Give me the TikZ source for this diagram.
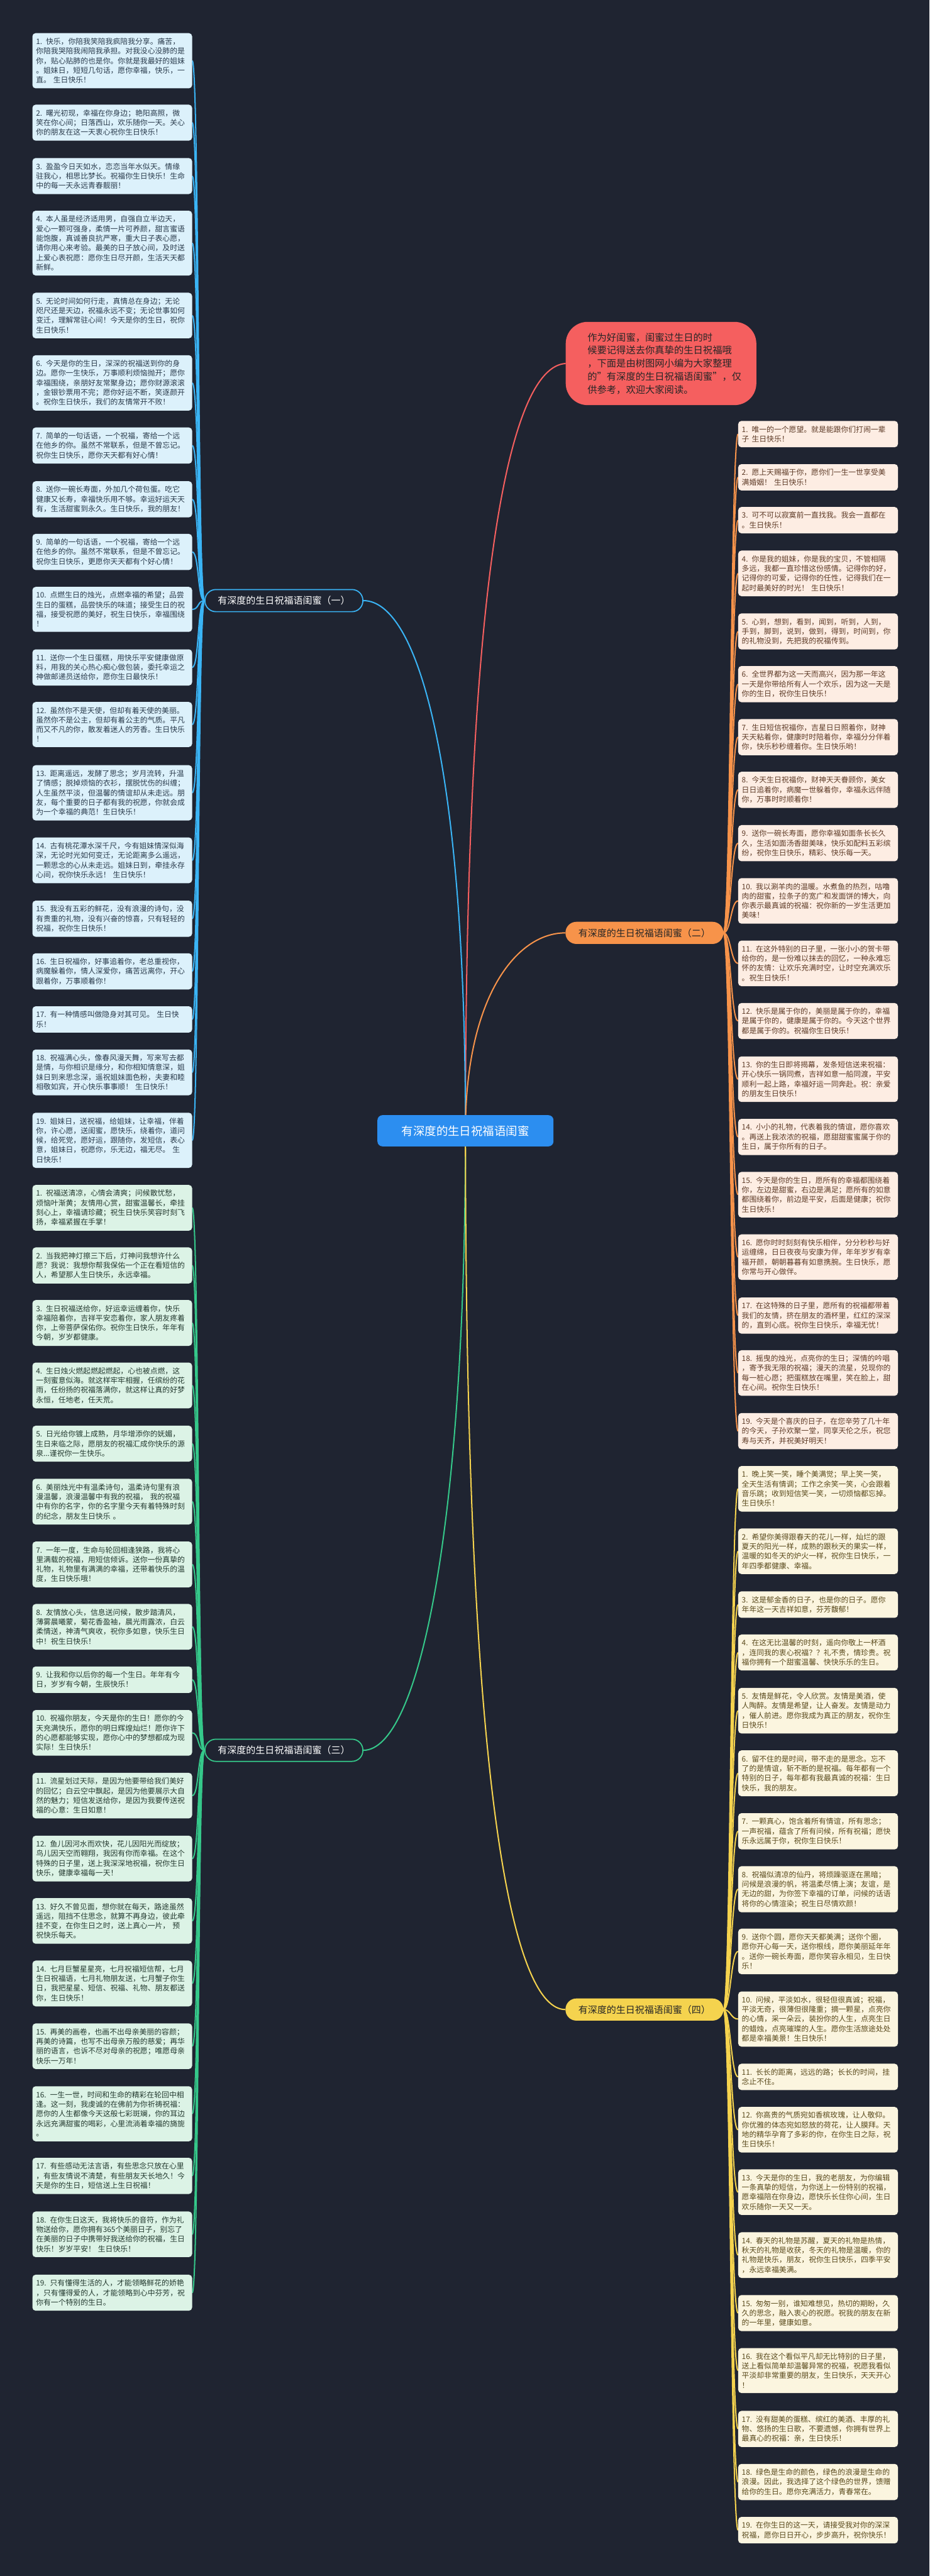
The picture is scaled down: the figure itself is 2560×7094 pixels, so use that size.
\documentclass[tikz,border=0pt]{standalone}
\usepackage{fontspec}
\setmainfont{Noto Sans CJK SC}
\usetikzlibrary{backgrounds}
\definecolor{bgc}{HTML}{1F2431}
\definecolor{cblue}{HTML}{3AB4F5}
\definecolor{corange}{HTML}{F7934A}
\definecolor{cgreen}{HTML}{35C88A}
\definecolor{cyellow}{HTML}{F5D34E}
\definecolor{cred}{HTML}{F55F5F}
\definecolor{ccenter}{HTML}{2C8EF0}
\definecolor{fblue}{HTML}{DCF1FB}
\definecolor{forange}{HTML}{FDEDE3}
\definecolor{fgreen}{HTML}{DCF3E6}
\definecolor{fyellow}{HTML}{FBF5DF}
\definecolor{tblue}{HTML}{2A3B4C}
\definecolor{torange}{HTML}{5E3B27}
\definecolor{tgreen}{HTML}{243A30}
\definecolor{tyellow}{HTML}{5A4A1C}
\newcommand\leaffont{\fontsize{20.5pt}{26.5pt}\selectfont}
\newcommand\branchfont{\fontsize{26pt}{30pt}\selectfont}
\begin{document}
\begin{tikzpicture}[x=1pt,y=-1pt,
  leaf/.style={rounded corners=9pt, inner xsep=10pt, inner ysep=13.5pt, text width=420pt, align=left, font=\leaffont, anchor=north west},
  leafA/.style={leaf, fill=fblue, text=tblue},
  leafO/.style={leaf, fill=forange, text=torange},
  leafG/.style={leaf, fill=fgreen, text=tgreen},
  leafY/.style={leaf, fill=fyellow, text=tyellow},
  branch/.style={rounded corners=30pt, minimum width=435pt, minimum height=61pt, inner sep=0pt, font=\branchfont},
  conA/.style={cblue, line width=3.5pt},
  conO/.style={corange, line width=3.5pt},
  conG/.style={cgreen, line width=3.5pt},
  conY/.style={cyellow, line width=3.5pt},
  conR/.style={cred, line width=3.5pt}]
\useasboundingbox (0,0) rectangle (2560,7094);
\begin{scope}[on background layer]
\fill[bgc] (0,0) rectangle (2560,7094);
\end{scope}

% center
\node[fill=ccenter, text=white, rounded corners=14pt, minimum width=485pt, minimum height=86pt, font=\fontsize{32pt}{36pt}\selectfont] (c) at (1282,3114) {有深度的生日祝福语闺蜜};

% intro
\node[fill=cred, text=black!85, rounded corners=60pt, anchor=west, inner xsep=60pt, inner ysep=30pt, text width=405pt, align=left, font=\fontsize{26.5pt}{36pt}\selectfont] (intro) at (1558,1001) {作为好闺蜜，闺蜜过生日的时\\候要记得送去你真挚的生日祝福哦\\，下面是由树图网小编为大家整理\\的"有深度的生日祝福语闺蜜"，仅\\供参考，欢迎大家阅读。};

% branch nodes
\node[branch, fill=bgc, draw=cblue, line width=3pt, text=white] (n1) at (782,1654) {有深度的生日祝福语闺蜜（一）};
\node[branch, fill=corange, text=black!85] (n2) at (1775,2569) {有深度的生日祝福语闺蜜（二）};
\node[branch, fill=bgc, draw=cgreen, line width=3pt, text=white] (n3) at (782,4820) {有深度的生日祝福语闺蜜（三）};
\node[branch, fill=cyellow, text=black!85] (n4) at (1775,5534) {有深度的生日祝福语闺蜜（四）};

% branch 1 leaves
\node[leafA] (a1) at (89,91) {1. 快乐，你陪我笑陪我疯陪我分享。痛苦，\\你陪我哭陪我闹陪我承担。对我没心没肺的是\\你，贴心贴肺的也是你。你就是我最好的姐妹\\。姐妹日，短短几句话，愿你幸福，快乐，一\\直。 生日快乐！};
\node[leafA] (a2) at (89,288) {2. 曙光初现，幸福在你身边；艳阳高照，微\\笑在你心间；日落西山，欢乐随你一天。关心\\你的朋友在这一天衷心祝你生日快乐！};
\node[leafA] (a3) at (89,435) {3. 盈盈今日天如水，恋恋当年水似天。情缘\\驻我心，相思比梦长。祝福你生日快乐！生命\\中的每一天永远青春靓丽！};
\node[leafA] (a4) at (89,580) {4. 本人虽是经济适用男，自强自立半边天，\\爱心一颗可强身，柔情一片可养颜，甜言蜜语\\能饱腹，真诚善良抗严寒，重大日子表心愿，\\请你用心来考验。最美的日子放心间，及时送\\上爱心表祝愿：愿你生日尽开颜，生活天天都\\新鲜。};
\node[leafA] (a5) at (89,806) {5. 无论时间如何行走，真情总在身边；无论\\咫尺还是天边，祝福永远不变；无论世事如何\\变迁，理解常驻心间！今天是你的生日，祝你\\生日快乐！};
\node[leafA] (a6) at (89,978) {6. 今天是你的生日，深深的祝福送到你的身\\边。愿你一生快乐，万事顺利烦恼抛开；愿你\\幸福围绕，亲朋好友常聚身边；愿你财源滚滚\\，金银钞票用不完；愿你好运不断，笑逐颜开\\。祝你生日快乐，我们的友情常开不败！};
\node[leafA] (a7) at (89,1177) {7. 简单的一句话语，一个祝福，寄给一个远\\在他乡的你。虽然不常联系，但是不曾忘记。\\祝你生日快乐，愿你天天都有好心情！};
\node[leafA] (a8) at (89,1325) {8. 送你一碗长寿面，外加几个荷包蛋。吃它\\健康又长寿，幸福快乐用不够。幸运好运天天\\有，生活甜蜜到永久。生日快乐，我的朋友！};
\node[leafA] (a9) at (89,1470) {9. 简单的一句话语，一个祝福，寄给一个远\\在他乡的你。虽然不常联系，但是不曾忘记。\\祝你生日快乐，更愿你天天都有个好心情！};
\node[leafA] (a10) at (89,1616) {10. 点燃生日的烛光，点燃幸福的希望；品尝\\生日的蛋糕，品尝快乐的味道；接受生日的祝\\福，接受祝愿的美好，祝生日快乐，幸福围绕\\！};
\node[leafA] (a11) at (89,1788) {11. 送你一个生日蛋糕，用快乐平安健康做原\\料，用我的关心热心痴心做包装，委托幸运之\\神做邮递员送给你，愿你生日最快乐！};
\node[leafA] (a12) at (89,1933) {12. 虽然你不是天使，但却有着天使的美丽。\\虽然你不是公主，但却有着公主的气质。平凡\\而又不凡的你，散发着迷人的芳香。生日快乐\\！};
\node[leafA] (a13) at (89,2107) {13. 距离遥远，发酵了思念；岁月流转，升温\\了情感；脱掉烦恼的衣衫，摆脱忧伤的纠缠；\\人生虽然平淡，但温馨的情谊却从未走远。朋\\友，每个重要的日子都有我的祝愿，你就会成\\为一个幸福的典范！生日快乐！};
\node[leafA] (a14) at (89,2306) {14. 古有桃花潭水深千尺，今有姐妹情深似海\\深，无论时光如何变迁，无论距离多么遥远，\\一颗思念的心从未走远。姐妹日到，牵挂永存\\心间，祝你快乐永远！ 生日快乐！};
\node[leafA] (a15) at (89,2480) {15. 我没有五彩的鲜花，没有浪漫的诗句，没\\有贵重的礼物，没有兴奋的惊喜，只有轻轻的\\祝福，祝你生日快乐！};
\node[leafA] (a16) at (89,2625) {16. 生日祝福你，好事追着你，老总重视你，\\病魔躲着你，情人深爱你，痛苦远离你，开心\\跟着你，万事顺着你！};
\node[leafA] (a17) at (89,2771) {17. 有一种情感叫做隐身对其可见。 生日快\\乐！};
\node[leafA] (a18) at (89,2890) {18. 祝福满心头，像春风漫天舞，写来写去都\\是情，与你相识是缘分，和你相知情意深，姐\\妹日到来思念深，遥祝姐妹面色粉，夫妻和睦\\相敬如宾，开心快乐事事顺！ 生日快乐！};
\node[leafA] (a19) at (89,3064) {19. 姐妹日，送祝福，给姐妹，让幸福，伴着\\你，许心愿，送闺蜜，愿快乐，绕着你，道问\\候，给死党，愿好运，跟随你，发短信，表心\\意，姐妹日，祝愿你，乐无边，福无尽。 生\\日快乐！};

% branch 3 leaves
\node[leafG] (g1) at (89,3263) {1. 祝福送清凉，心情会清爽；问候散忧愁，\\烦恼叶渐黄；友情用心赏，甜蜜温馨长，牵挂\\刻心上，幸福请珍藏；祝生日快乐笑容时刻飞\\扬，幸福紧握在手掌！};
\node[leafG] (g2) at (89,3435) {2. 当我把神灯擦三下后，灯神问我想许什么\\愿？我说：我想你帮我保佑一个正在看短信的\\人，希望那人生日快乐，永远幸福。};
\node[leafG] (g3) at (89,3580) {3. 生日祝福送给你，好运幸运缠着你，快乐\\幸福陪着你，吉祥平安恋着你，家人朋友疼着\\你，上帝菩萨保佑你。祝你生日快乐，年年有\\今朝，岁岁都健康。};
\node[leafG] (g4) at (89,3752) {4. 生日烛火燃起燃起燃起，心也被点燃，这\\一刻蜜意似海。就这样牢牢相握，任缤纷的花\\雨，任纷扬的祝福落满你，就这样让真的好梦\\永恒，任地老，任天荒。};
\node[leafG] (g5) at (89,3926) {5. 日光给你镀上成熟，月华增添你的妩媚，\\生日来临之际，愿朋友的祝福汇成你快乐的源\\泉...谨祝你一生快乐。};
\node[leafG] (g6) at (89,4072) {6. 美丽烛光中有温柔诗句，温柔诗句里有浪\\漫温馨，浪漫温馨中有我的祝福， 我的祝福\\中有你的名字，你的名字里今天有着特殊时刻\\的纪念，朋友生日快乐 。};
\node[leafG] (g7) at (89,4245) {7. 一年一度，生命与轮回相逢狭路，我将心\\里满载的祝福，用短信倾诉。送你一份真挚的\\礼物，礼物里有满满的幸福，还带着快乐的温\\度，生日快乐哦！};
\node[leafG] (g8) at (89,4417) {8. 友情放心头，信息送问候，散步踏清风，\\薄雾晨曦蒙，菊花香盈袖，晨光雨露浓，白云\\柔情送，神清气爽收，祝你多如意，快乐生日\\中！祝生日快乐！};
\node[leafG] (g9) at (89,4589) {9. 让我和你以后你的每一个生日。年年有今\\日，岁岁有今朝，生辰快乐！};
\node[leafG] (g10) at (89,4709) {10. 祝福你朋友，今天是你的生日！愿你的今\\天充满快乐，愿你的明日辉煌灿烂！愿你许下\\的心愿都能够实现，愿你心中的梦想都成为现\\实际！生日快乐！};
\node[leafG] (g11) at (89,4882) {11. 流星划过天际，是因为他要带给我们美好\\的回忆；白云空中飘起，是因为他要展示大自\\然的魅力；短信发送给你，是因为我要传送祝\\福的心意：生日如意！};
\node[leafG] (g12) at (89,5055) {12. 鱼儿因河水而欢快，花儿因阳光而绽放；\\鸟儿因天空而翱翔，我因有你而幸福。在这个\\特殊的日子里，送上我深深地祝福，祝你生日\\快乐，健康幸福每一天！};
\node[leafG] (g13) at (89,5227) {13. 好久不曾见面，想你就在每天，路途虽然\\遥远，阻挡不住思念，就算不再身边，彼此牵\\挂不变，在你生日之时，送上真心一片， 预\\祝快乐每天。};
\node[leafG] (g14) at (89,5399) {14. 七月巨蟹星星亮，七月祝福短信帮，七月\\生日祝福语，七月礼物朋友送，七月蟹子你生\\日，我把星星、短信、祝福、礼物、朋友都送\\你，生日快乐！};
\node[leafG] (g15) at (89,5572) {15. 再美的画卷，也画不出母亲美丽的容颜；\\再美的诗篇，也写不出母亲万般的慈爱；再华\\丽的语言，也诉不尽对母亲的祝愿；唯愿母亲\\快乐一万年！};
\node[leafG] (g16) at (89,5745) {16. 一生一世，时间和生命的精彩在轮回中相\\逢。这一刻，我虔诚的在佛前为你祈祷祝福：\\愿你的人生都像今天这般七彩斑斓，你的耳边\\永远充满甜蜜的喝彩，心里流淌着幸福的旖旎\\。};
\node[leafG] (g17) at (89,5942) {17. 有些感动无法言语，有些思念只放在心里\\，有些友情说不清楚，有些朋友天长地久！今\\天是你的生日，短信送上生日祝福！};
\node[leafG] (g18) at (89,6090) {18. 在你生日这天，我将快乐的音符，作为礼\\物送给你，愿你拥有365个美丽日子，别忘了\\在美丽的日子中携带好我送给你的祝福，生日\\快乐！岁岁平安！ 生日快乐！};
\node[leafG] (g19) at (89,6264) {19. 只有懂得生活的人，才能领略鲜花的娇艳\\，只有懂得爱的人，才能领略到心中芬芳，祝\\你有一个特别的生日。};

% branch 2 leaves
\node[leafO] (o1) at (2033,1159) {1. 唯一的一个愿望。就是能跟你们打闹一辈\\子 生日快乐！};
\node[leafO] (o2) at (2033,1278) {2. 愿上天赐福于你，愿你们一生一世享受美\\满婚姻！ 生日快乐！};
\node[leafO] (o3) at (2033,1396) {3. 可不可以寂寞前一直找我。我会一直都在\\。生日快乐！};
\node[leafO] (o4) at (2033,1516) {4. 你是我的姐妹，你是我的宝贝，不管相隔\\多远，我都一直珍惜这份感情。记得你的好，\\记得你的可爱，记得你的任性，记得我们在一\\起时最美好的时光！ 生日快乐！};
\node[leafO] (o5) at (2033,1689) {5. 心到，想到，看到，闻到，听到，人到，\\手到，脚到，说到，做到，得到，时间到，你\\的礼物没到，先把我的祝福传到。};
\node[leafO] (o6) at (2033,1834) {6. 全世界都为这一天而高兴，因为那一年这\\一天是你带给所有人一个欢乐，因为这一天是\\你的生日，祝你生日快乐！};
\node[leafO] (o7) at (2033,1980) {7. 生日短信祝福你，吉星日日照着你，财神\\天天粘着你，健康时时陪着你，幸福分分伴着\\你，快乐秒秒缠着你。生日快乐哟！};
\node[leafO] (o8) at (2033,2125) {8. 今天生日祝福你，财神天天眷顾你，美女\\日日追着你，病魔一世躲着你，幸福永远伴随\\你，万事时时顺着你！};
\node[leafO] (o9) at (2033,2272) {9. 送你一碗长寿面，愿你幸福如面条长长久\\久，生活如面汤香甜美味，快乐如配料五彩缤\\纷，祝你生日快乐，精彩、快乐每一天。};
\node[leafO] (o10) at (2033,2418) {10. 我以涮羊肉的温暖。水煮鱼的热烈，咕噜\\肉的甜蜜，拉条子的宽广和发面饼的博大，向\\你表示最真诚的祝福：祝你新的一岁生活更加\\美味！};
\node[leafO] (o11) at (2033,2590) {11. 在这外特别的日子里，一张小小的贺卡带\\给你的，是一份难以抹去的回忆，一种永难忘\\怀的友情：让欢乐充满时空，让时空充满欢乐\\。祝生日快乐！};
\node[leafO] (o12) at (2033,2762) {12. 快乐是属于你的，美丽是属于你的，幸福\\是属于你的，健康是属于你的。今天这个世界\\都是属于你的。祝福你生日快乐！};
\node[leafO] (o13) at (2033,2909) {13. 你的生日即将揭幕，发条短信送来祝福：\\开心快乐一锅同煮，吉祥如意一船同渡，平安\\顺利一起上路，幸福好运一同奔赴。祝：亲爱\\的朋友生日快乐！};
\node[leafO] (o14) at (2033,3081) {14. 小小的礼物，代表着我的情谊，愿你喜欢\\。再送上我浓浓的祝福，愿甜甜蜜蜜属于你的\\生日，属于你所有的日子。};
\node[leafO] (o15) at (2033,3227) {15. 今天是你的生日，愿所有的幸福都围绕着\\你，左边是甜蜜，右边是满足；愿所有的如意\\都围绕着你，前边是平安，后面是健康；祝你\\生日快乐！};
\node[leafO] (o16) at (2033,3399) {16. 愿你时时刻刻有快乐相伴，分分秒秒与好\\运缠绵，日日夜夜与安康为伴，年年岁岁有幸\\福开颜，朝朝暮暮有如意携腕。生日快乐，愿\\你常与开心做伴。};
\node[leafO] (o17) at (2033,3573) {17. 在这特殊的日子里，愿所有的祝福都带着\\我们的友情，挤在朋友的酒杯里，红红的深深\\的，直到心底。祝你生日快乐，幸福无忧！};
\node[leafO] (o18) at (2033,3718) {18. 摇曳的烛光，点亮你的生日；深情的吟唱\\，寄予我无限的祝福；漫天的流星，兑现你的\\每一桩心愿；把蛋糕放在嘴里，笑在脸上，甜\\在心间。祝你生日快乐！};
\node[leafO] (o19) at (2033,3891) {19. 今天是个喜庆的日子，在您辛劳了几十年\\的今天，子孙欢聚一堂，同享天伦之乐，祝您\\寿与天齐，并祝美好明天！};

% branch 4 leaves
\node[leafY] (y1) at (2033,4037) {1. 晚上笑一笑，睡个美满觉；早上笑一笑，\\全天生活有情调；工作之余笑一笑，心会跟着\\音乐跳；收到短信笑一笑，一切烦恼都忘掉。\\生日快乐！};
\node[leafY] (y2) at (2033,4209) {2. 希望你美得跟春天的花儿一样，灿烂的跟\\夏天的阳光一样，成熟的跟秋天的果实一样，\\温暖的如冬天的炉火一样，祝你生日快乐，一\\年四季都健康、幸福。};
\node[leafY] (y3) at (2033,4382) {3. 这是郁金香的日子，也是你的日子。愿你\\年年这一天吉祥如意，芬芳馥郁！};
\node[leafY] (y4) at (2033,4501) {4. 在这无比温馨的时刻，遥向你敬上一杯酒\\，连同我的衷心祝福？？礼不贵，情珍贵。祝\\福你拥有一个甜蜜温馨、快快乐乐的生日。};
\node[leafY] (y5) at (2033,4648) {5. 友情是鲜花，令人欣赏。友情是美酒，使\\人陶醉。友情是希望，让人奋发。友情是动力\\，催人前进。愿你我成为真正的朋友，祝你生\\日快乐！};
\node[leafY] (y6) at (2033,4820) {6. 留不住的是时间，带不走的是思念。忘不\\了的是情谊，斩不断的是祝福。每年都有一个\\特别的日子，每年都有我最真诚的祝福：生日\\快乐，我的朋友。};
\node[leafY] (y7) at (2033,4993) {7. 一颗真心，饱含着所有情谊，所有思念；\\一声祝福，蕴含了所有问候，所有祝福；愿快\\乐永远属于你，祝你生日快乐！};
\node[leafY] (y8) at (2033,5139) {8. 祝福似清凉的仙丹，将烦躁驱逐在黑暗；\\问候是浪漫的帆，将温柔尽情上演；友谊，是\\无边的甜，为你签下幸福的订单，问候的话语\\将你的心情渲染；祝生日尽情欢颜！};
\node[leafY] (y9) at (2033,5311) {9. 送你个圆，愿你天天都美满；送你个圈，\\愿你开心每一天，送你根线，愿你美丽延年年\\。送你一碗长寿面，愿你笑容永相见，生日快\\乐！};
\node[leafY] (y10) at (2033,5484) {10. 问候，平淡如水，很轻但很真诚；祝福，\\平淡无奇，很薄但很隆重；摘一颗星，点亮你\\的心情，采一朵云，装扮你的人生，点亮生日\\的蜡烛，点亮璀璨的人生。愿你生活旅途处处\\都是幸福美景！生日快乐！};
\node[leafY] (y11) at (2033,5683) {11. 长长的距离，远远的路；长长的时间，挂\\念止不住。};
\node[leafY] (y12) at (2033,5802) {12. 你高贵的气质宛如香槟玫瑰，让人敬仰。\\你优雅的体态宛如怒放的荷花，让人膜拜。天\\地的精华孕育了多彩的你，在你生日之际，祝\\生日快乐！};
\node[leafY] (y13) at (2033,5974) {13. 今天是你的生日，我的老朋友，为你编辑\\一条真挚的短信，为你送上一份特别的祝福，\\愿幸福陪在你身边，愿快乐长住你心间，生日\\欢乐随你一天又一天。};
\node[leafY] (y14) at (2033,6147) {14. 春天的礼物是苏醒，夏天的礼物是热情，\\秋天的礼物是收获，冬天的礼物是温暖，你的\\礼物是快乐，朋友，祝你生日快乐，四季平安\\，永远幸福美满。};
\node[leafY] (y15) at (2033,6320) {15. 匆匆一别，谁知难想见，热切的期盼，久\\久的思念，融入衷心的祝愿。祝我的朋友在新\\的一年里，健康如意。};
\node[leafY] (y16) at (2033,6466) {16. 我在这个看似平凡却无比特别的日子里，\\送上看似简单却温馨异常的祝福，祝愿我看似\\平淡却非常重要的朋友，生日快乐，天天开心\\！};
\node[leafY] (y17) at (2033,6639) {17. 没有甜美的蛋糕、缤红的美酒、丰厚的礼\\物、悠扬的生日歌，不要遗憾，你拥有世界上\\最真心的祝福：亲，生日快乐！};
\node[leafY] (y18) at (2033,6785) {18. 绿色是生命的颜色，绿色的浪漫是生命的\\浪漫。因此，我选择了这个绿色的世界，馈赠\\给你的生日。愿你充满活力，青春常在。};
\node[leafY] (y19) at (2033,6931) {19. 在你生日的这一天，请接受我对你的深深\\祝福，愿你日日开心，步步高升，祝你快乐！};

\begin{scope}[on background layer]
\draw[conR] (c.center) .. controls (1282,1600) and (1400,1010) .. (intro.west);
\draw[conA] (c.center) .. controls (1282,2100) and (1150,1654) .. (n1.east);
\draw[conO] (c.center) .. controls (1282,2750) and (1420,2569) .. (n2.west);
\draw[conG] (c.center) .. controls (1282,4230) and (1150,4820) .. (n3.east);
\draw[conY] (c.center) .. controls (1282,5000) and (1420,5534) .. (n4.west);
\foreach \i in {1,...,19} {
  \draw[conA] (n1.west) .. controls +(-19,0) and +(19,0) .. (a\i.east);
  \draw[conO] (n2.east) .. controls +(20,0) and +(-20,0) .. (o\i.west);
  \draw[conG] (n3.west) .. controls +(-19,0) and +(19,0) .. (g\i.east);
  \draw[conY] (n4.east) .. controls +(20,0) and +(-20,0) .. (y\i.west);
}
\end{scope}
\end{tikzpicture}
\end{document}
